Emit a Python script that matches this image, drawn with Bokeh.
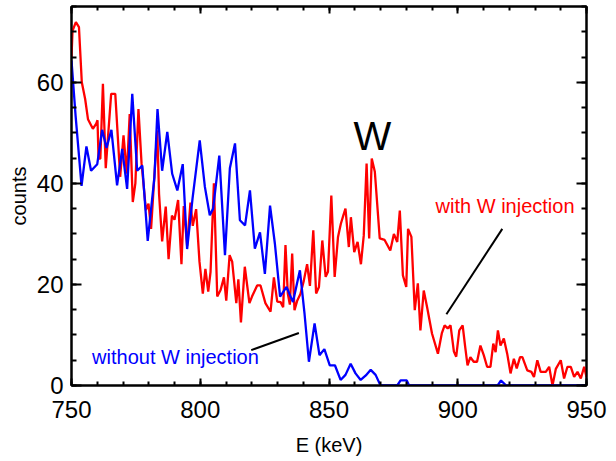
from bokeh.plotting import figure
from bokeh.models import Range1d, LinearAxis, SingleIntervalTicker, CustomJSTickFormatter
from bokeh.core.properties import value
from bokeh.embed import file_html
from bokeh.resources import INLINE

# ---- data ----
red_energy = [750.0, 750.4, 751.7, 752.9, 754.0, 755.3, 756.4, 757.3, 758.3, 759.6,
              760.1, 760.5, 761.2, 762.2, 763.3, 765.4, 767.0, 768.9, 770.2, 771.5,
              772.6, 773.8, 774.8, 776.0, 777.2, 778.9, 779.9, 780.9, 783.3, 784.0,
              785.2, 786.6, 787.7, 789.0, 790.0, 791.4, 792.7, 793.6, 794.9, 796.2,
              797.1, 798.4, 799.7, 801.0, 802.0, 803.1, 804.0, 805.3, 806.6, 807.9,
              809.2, 810.1, 811.4, 812.4, 814.0, 814.8, 815.8, 817.3, 819.1, 820.1,
              822.1, 823.4, 825.3, 827.3, 828.6, 829.9, 831.2, 832.2, 833.1, 834.0,
              834.8, 835.7, 836.6, 837.6, 838.9, 840.2, 841.5, 842.6, 843.9, 845.0,
              846.1, 847.4, 848.7, 849.6, 850.9, 852.2, 853.5, 854.6, 855.6, 856.4,
              857.7, 858.5, 859.8, 861.1, 862.4, 863.5, 864.6, 865.6, 866.6, 867.8,
              869.7, 871.6, 873.8, 875.2, 876.5, 877.5, 878.7, 880.0, 880.7, 882.0,
              883.3, 884.5, 885.5, 886.8, 888.1, 890.0, 892.3, 893.8, 894.9, 896.1,
              897.2, 898.5, 899.4, 900.6, 901.9, 902.9, 903.8, 904.9, 906.2, 907.5,
              908.8, 910.1, 911.4, 912.7, 913.8, 914.7, 915.6, 916.6, 917.9, 919.2,
              920.5, 921.8, 922.9, 924.2, 925.1, 927.0, 928.6, 929.6, 930.9, 932.2,
              934.2, 935.5, 936.8, 938.1, 940.0, 941.3, 942.6, 943.9, 945.2, 946.5,
              947.8, 949.1, 950.0]
red_counts = [65.0, 70.2, 71.9, 70.9, 60.0, 56.7, 52.7, 51.8, 50.8, 51.8,
              52.5, 44.9, 44.9, 59.7, 43.0, 57.7, 57.7, 41.3, 49.5, 41.9,
              53.7, 36.3, 40.0, 54.7, 44.0, 34.7, 36.0, 31.0, 50.5, 37.9,
              28.5, 35.4, 25.0, 33.6, 32.8, 36.7, 24.0, 35.5, 27.6, 36.2,
              31.6, 34.9, 24.5, 18.2, 23.1, 18.6, 22.5, 40.0, 17.6, 18.9,
              21.4, 16.8, 25.8, 24.5, 16.3, 21.0, 12.5, 23.5, 16.3, 17.6,
              19.8, 19.8, 16.3, 14.6, 21.4, 16.6, 16.5, 15.5, 27.8, 18.2,
              16.0, 26.1, 14.9, 16.7, 18.1, 20.7, 24.0, 19.7, 30.7, 18.2,
              19.5, 28.7, 21.5, 22.5, 37.6, 21.5, 29.4, 32.0, 33.7, 35.0,
              27.4, 33.3, 26.4, 28.4, 24.0, 29.7, 43.9, 29.1, 44.9, 42.3,
              29.1, 28.8, 26.7, 30.0, 28.4, 34.6, 21.8, 19.5, 31.0, 29.4,
              14.9, 20.2, 10.9, 18.8, 15.5, 10.3, 6.3, 10.3, 11.9, 11.3,
              11.9, 6.7, 5.7, 10.9, 11.9, 7.6, 4.0, 5.6, 4.7, 4.7,
              7.9, 6.0, 3.7, 3.7, 8.3, 6.6, 10.9, 7.9, 9.3, 6.3,
              2.4, 5.3, 3.4, 5.6, 5.6, 3.0, 2.7, 1.7, 5.0, 2.7,
              2.7, 3.7, 0.0, 3.3, 5.0, 1.4, 3.7, 3.7, 1.7, 2.7,
              1.4, 3.7, 1.7]

blue_energy = [750.0, 751.6, 753.9, 755.8, 757.6, 760.0, 761.9, 763.6, 765.5, 767.7,
               769.7, 771.6, 773.6, 775.5, 777.5, 779.6, 782.2, 783.4, 785.2, 787.2,
               789.1, 791.1, 793.2, 794.9, 797.0, 799.8, 801.8, 803.7, 805.0, 807.4,
               809.6, 811.5, 813.5, 815.4, 817.4, 819.3, 821.2, 823.2, 825.1, 827.1,
               829.0, 831.0, 833.5, 836.0, 838.7, 840.5, 842.2, 844.4, 846.3, 848.2,
               850.3, 852.3, 854.5, 856.4, 858.4, 860.3, 862.3, 864.3, 866.2, 868.1,
               870.0, 876.5, 877.8, 880.2, 881.1, 915.5, 916.8, 918.8, 950.0]
blue_counts = [64.3, 53.3, 39.5, 47.3, 42.5, 43.8, 50.6, 47.0, 50.6, 39.6,
               46.8, 38.9, 57.7, 42.5, 43.5, 28.6, 41.2, 54.7, 42.5, 50.2,
               41.9, 38.6, 43.8, 27.0, 37.0, 48.5, 39.3, 33.7, 35.0, 45.5,
               25.8, 43.0, 47.9, 32.7, 31.7, 38.6, 27.1, 30.3, 22.1, 35.6,
               28.0, 17.6, 19.5, 16.5, 22.8, 14.2, 4.7, 12.3, 6.0, 7.2,
               4.0, 4.0, 1.1, 2.1, 4.3, 2.4, 1.1, 2.0, 3.1, 2.1,
               0.0, 0.0, 1.0, 1.0, 0.0, 0.0, 1.0, 0.0, 0.0]

peak_label = "W"
red_label = "with W injection"
blue_label = "without W injection"

FONT = "Liberation Sans"
RED = "#ff0000"
BLUE = "#0000ff"

p = figure(width=608, height=458, output_backend="svg", toolbar_location=None,
           x_range=Range1d(750, 950), y_range=Range1d(0, 75),
           min_border_left=71, min_border_right=22, min_border_top=6,
           min_border_bottom=73, x_axis_label="E (keV)", y_axis_label="counts")

p.xgrid.visible = False
p.ygrid.visible = False
p.outline_line_color = "black"
p.outline_line_width = 2
p.background_fill_color = "white"
p.border_fill_color = "white"

def style_axis(ax, major_in, minor_in, show_labels):
    ax.axis_line_color = "black"
    ax.axis_line_width = 2
    ax.major_tick_line_color = "black"
    ax.minor_tick_line_color = "black"
    ax.major_tick_line_width = 2
    ax.minor_tick_line_width = 2
    ax.major_tick_in = major_in
    ax.major_tick_out = 0
    ax.minor_tick_in = minor_in
    ax.minor_tick_out = 0
    ax.major_label_text_font = FONT
    ax.axis_label_text_font = FONT
    ax.axis_label_text_font_style = "normal"
    ax.axis_label_text_color = "black"
    ax.major_label_text_color = "black"
    ax.major_label_text_font_size = "24px"
    ax.axis_label_text_font_size = "20px"
    if not show_labels:
        ax.formatter = CustomJSTickFormatter(code="return '';")
        ax.major_label_standoff = 0

p.xaxis.ticker = SingleIntervalTicker(interval=50, num_minor_ticks=5)
p.yaxis.ticker = SingleIntervalTicker(interval=20, num_minor_ticks=4)
style_axis(p.xaxis[0], 7, 4, True)
style_axis(p.yaxis[0], 10, 5, True)
p.xaxis.major_label_standoff = 15
p.xaxis.axis_label_standoff = 13
p.yaxis.major_label_standoff = 8
p.yaxis.axis_label_standoff = 4
p.yaxis.major_label_orientation = "horizontal"

top_ax = LinearAxis(ticker=SingleIntervalTicker(interval=50, num_minor_ticks=5))
right_ax = LinearAxis(ticker=SingleIntervalTicker(interval=20, num_minor_ticks=4))
style_axis(top_ax, 7, 4, False)
style_axis(right_ax, 10, 5, False)
p.add_layout(top_ax, "above")
p.add_layout(right_ax, "right")

p.line(red_energy, red_counts, line_color=RED, line_width=2.3)
p.line(blue_energy, blue_counts, line_color=BLUE, line_width=2.3)

# leader lines for the labels
p.line([819.8, 838.3], [7.0, 10.4], line_color="black", line_width=2)
p.line([895.6, 917.3], [14.1, 31.0], line_color="black", line_width=2)

p.text(x=[866.8], y=[49.4], text=[peak_label], text_font=value(FONT),
       text_font_size="40px", text_color="black", text_align="center",
       text_baseline="alphabetic")
p.text(x=[891.4], y=[35.6], text=[red_label], text_font=value(FONT),
       text_font_size="20px", text_color=RED, text_align="left",
       text_baseline="alphabetic")
p.text(x=[758.0], y=[5.6], text=[blue_label], text_font=value(FONT),
       text_font_size="20px", text_color=BLUE, text_align="left",
       text_baseline="alphabetic")

open("out.html", "w").write(file_html(p, INLINE))
